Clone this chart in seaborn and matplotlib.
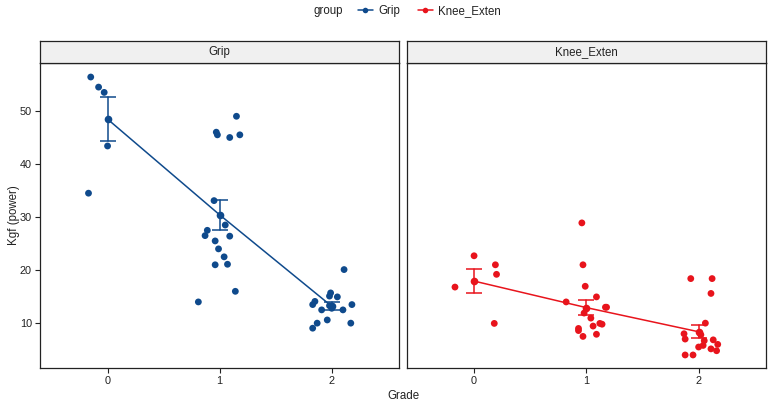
import numpy as np
import pandas as pd
import matplotlib
matplotlib.use("Agg")
import matplotlib.pyplot as plt
from matplotlib.lines import Line2D
import seaborn as sns

# ---------------- data ----------------
groups = ["Grip", "Knee_Exten"]
grade_ticks = [0, 1, 2]

grip_g0 = [56.4, 54.5, 53.5, 43.4, 34.5]
grip_g0_jit = [-0.15, -0.08, -0.03, 0.00, -0.17]
grip_g1 = [49.0, 46.0, 45.5, 45.0, 45.5, 33.1, 28.5, 27.5, 26.5, 26.4,
           25.5, 24.0, 22.5, 21.0, 21.1, 16.0, 14.0]
grip_g1_jit = [0.15, -0.03, -0.02, 0.09, 0.18, -0.05, 0.05, -0.11, -0.13, 0.09,
               -0.04, -0.01, 0.04, -0.04, 0.07, 0.14, -0.19]
grip_g2 = [20.1, 15.7, 15.1, 12.8, 14.95, 14.1, 13.5, 13.3, 13.5, 12.5,
           12.5, 10.6, 10.0, 10.0, 9.05]
grip_g2_jit = [0.11, -0.01, -0.02, 0.00, 0.05, -0.15, -0.17, -0.02, 0.18, -0.09,
               0.10, -0.04, -0.13, 0.17, -0.17]

knee_g0 = [22.7, 21.0, 19.2, 16.8, 9.95]
knee_g0_jit = [0.00, 0.19, 0.20, -0.17, 0.18]
knee_g1 = [28.9, 21.0, 16.95, 14.0, 14.95, 13.0, 13.0, 11.9, 10.95, 9.45,
           9.95, 9.8, 9.0, 8.6, 7.5, 7.9]
knee_g1_jit = [-0.04, -0.03, -0.01, -0.18, 0.09, 0.17, 0.18, -0.02, 0.04, 0.06,
               0.12, 0.14, -0.07, -0.07, -0.03, 0.09]
knee_g2 = [18.4, 18.4, 15.6, 10.0, 8.0, 7.0, 6.7, 6.85, 5.8, 6.0,
           5.15, 4.8, 4.0, 4.0, 7.8, 5.5]
knee_g2_jit = [-0.07, 0.12, 0.11, 0.06, -0.13, -0.12, 0.05, 0.13, 0.04, 0.17,
               0.11, 0.16, -0.12, -0.05, 0.02, 0.00]

colors = {"Grip": "#0F4A8C", "Knee_Exten": "#E8141C"}

rows = []
series = {
    "Grip": [(0, grip_g0, grip_g0_jit), (1, grip_g1, grip_g1_jit), (2, grip_g2, grip_g2_jit)],
    "Knee_Exten": [(0, knee_g0, knee_g0_jit), (1, knee_g1, knee_g1_jit), (2, knee_g2, knee_g2_jit)],
}
for g, lst in series.items():
    for grade, vals, jit in lst:
        for v, j in zip(vals, jit):
            rows.append({"group": g, "Grade": grade, "xj": grade + j, "value": v})
df = pd.DataFrame(rows)

# ---------------- style ----------------
sns.set_style("ticks")
plt.rcParams["font.family"] = ["Liberation Sans", "DejaVu Sans"]

W, H = 770, 404
fig = plt.figure(figsize=(W / 100, H / 100), dpi=100)

def fx(px):
    return px / W

def fy(py):
    return 1 - py / H

panel_top, panel_bot = 62.7, 367.7
strip_top = 40.7
panels = [(40.3, 399.0), (406.7, 766.0)]

axes = []
for i, (g, (x0, x1)) in enumerate(zip(groups, panels)):
    ax = fig.add_axes([fx(x0), fy(panel_bot), fx(x1 - x0), (panel_bot - panel_top) / H])
    sub = df[df.group == g]
    sns.scatterplot(data=sub, x="xj", y="value", color=colors[g], s=24,
                    edgecolor="none", ax=ax, zorder=3, legend=False)
    sns.lineplot(data=sub, x="Grade", y="value", color=colors[g], estimator="mean",
                 errorbar="se", err_style="bars", marker="o", markersize=5.5,
                 markeredgecolor="none", linewidth=1.1, ax=ax, zorder=4,
                 err_kws={"capsize": 6, "elinewidth": 1.1, "capthick": 1.1})
    ax.set_xlim(-0.6, 2.6)
    ax.set_ylim(1.6, 59.1)
    ax.set_xticks(grade_ticks)
    ax.set_yticks([10, 20, 30, 40, 50])
    ax.set_xlabel("")
    ax.set_ylabel("")
    for sp in ax.spines.values():
        sp.set_visible(True)
        sp.set_color("#222222")
        sp.set_linewidth(0.9)
    ax.tick_params(axis="both", length=3.5, width=0.8, color="#222222",
                   labelsize=7.8, labelcolor="#222222", pad=2.5)
    if i == 1:
        ax.tick_params(axis="y", left=False, labelleft=False)
    ax.set_facecolor("white")
    axes.append(ax)

    # strip
    sax = fig.add_axes([fx(x0), fy(panel_top), fx(x1 - x0), (panel_top - strip_top) / H])
    sax.set_facecolor("#F0F0F0")
    sax.set_xticks([])
    sax.set_yticks([])
    for sp in sax.spines.values():
        sp.set_visible(True)
        sp.set_color("#222222")
        sp.set_linewidth(0.9)
    sax.text(0.5, 0.5, g, ha="center", va="center", fontsize=8.3, color="#222222",
             transform=sax.transAxes)

fig.text(fx(403), fy(396), "Grade", ha="center", va="center", fontsize=8.3, color="#222222")
fig.text(fx(14), fy(215), "Kgf (power)", ha="center", va="center", rotation=90,
         fontsize=8.3, color="#222222")

# legend
fig.text(fx(328), fy(11), "group", ha="center", va="center", fontsize=8.3, color="#222222")
handles = [Line2D([0], [0], color=colors[g], marker="o", markersize=4, linewidth=1.1,
                  markeredgecolor="none") for g in groups]
fig.legend(handles, groups, loc="center left", bbox_to_anchor=(fx(352), fy(11)), ncol=2,
           frameon=False, fontsize=8.3, handlelength=1.3, handletextpad=0.5,
           columnspacing=1.5, borderpad=0, labelcolor="#222222")

fig.savefig("out.png", dpi=100)
